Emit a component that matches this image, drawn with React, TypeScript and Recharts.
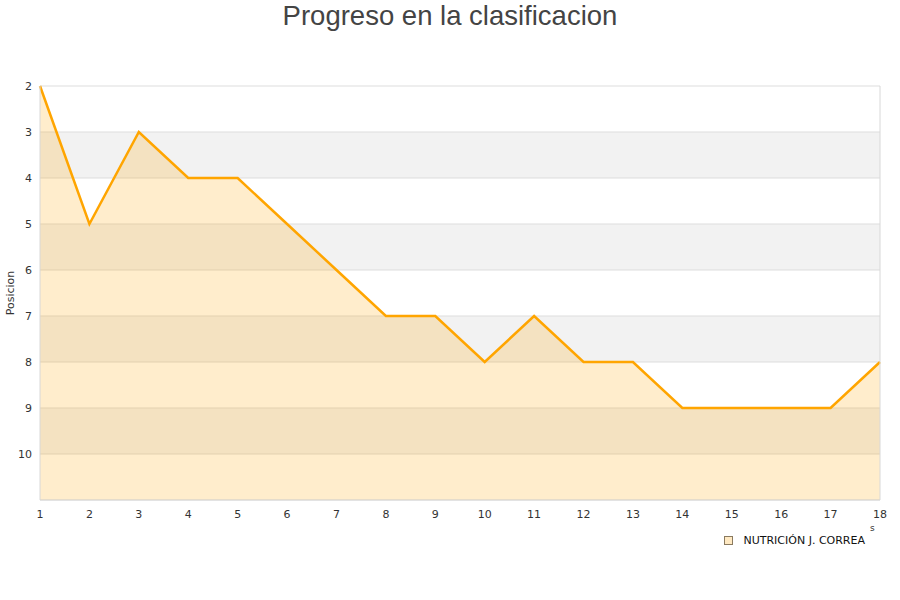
import React from 'react';
import { AreaChart, Area, XAxis, YAxis, CartesianGrid, ReferenceLine } from 'recharts';

const jornadas = [1, 2, 3, 4, 5, 6, 7, 8, 9, 10, 11, 12, 13, 14, 15, 16, 17, 18];
const posiciones = [2, 5, 3, 4, 4, 5, 6, 7, 7, 8, 7, 8, 8, 9, 9, 9, 9, 8];
const yTicks = [2, 3, 4, 5, 6, 7, 8, 9, 10];
const seriesName = 'NUTRICIÓN J. CORREA';
const title = 'Progreso en la clasificacion';

const data = jornadas.map((j, i) => ({ jornada: j, pos: posiciones[i] }));

const font = '"DejaVu Sans", sans-serif';

export default function App() {
  return (
    <div style={{ position: 'absolute', left: 0, top: 0, width: 900, height: 600, background: '#fff' }}>
      <div style={{ position: 'absolute', left: 0, top: 0, width: 900, textAlign: 'center', fontFamily: '"Liberation Sans", Arial, sans-serif', fontSize: 27.5, color: '#444', lineHeight: '32px' }}>
        {title}
      </div>
      <div style={{ position: 'absolute', left: 870, top: 523, fontFamily: font, fontSize: 9, color: '#333' }}>s</div>
      <div style={{ position: 'absolute', left: 700, top: 534, width: 165, display: 'flex', alignItems: 'center', justifyContent: 'flex-end', fontFamily: font, fontSize: 11, color: '#111' }}>
        <span style={{ display: 'inline-block', width: 7, height: 7, background: '#FFE9C2', border: '1px solid #8a7a60', marginRight: 10 }} />
        <span>{seriesName}</span>
      </div>
      <AreaChart width={900} height={600} data={data} margin={{ top: 86, right: 20, bottom: 70, left: 0 }}>
        <CartesianGrid vertical={false} stroke="#DDDDDD" horizontalFill={['#FFFFFF', '#F2F2F2']} fillOpacity={1} />
        <XAxis
          dataKey="jornada"
          type="number"
          domain={[1, 18]}
          ticks={jornadas}
          interval={0}
          height={30}
          tickLine={false}
          tickMargin={4}
          axisLine={{ stroke: '#D8D8D8' }}
          tick={{ fontSize: 11, fill: '#333', fontFamily: font }}
        />
        <YAxis
          type="number"
          domain={[2, 11]}
          ticks={yTicks}
          reversed
          interval={0}
          width={40}
          tickLine={false}
          axisLine={{ stroke: '#D8D8D8' }}
          tick={{ fontSize: 11, fill: '#333', fontFamily: font }}
          label={{ value: 'Posicion', angle: -90, position: 'insideLeft', offset: 10, style: { fontSize: 11, fill: '#333', fontFamily: font, textAnchor: 'middle' } }}
        />
        <ReferenceLine x={18} stroke="#D8D8D8" />
        <Area
          type="linear"
          dataKey="pos"
          name={seriesName}
          baseValue={11}
          stroke="#FFA500"
          strokeWidth={2.5}
          fill="#FFA500"
          fillOpacity={0.2}
          dot={false}
          activeDot={false}
          isAnimationActive={false}
        />
      </AreaChart>
    </div>
  );
}
